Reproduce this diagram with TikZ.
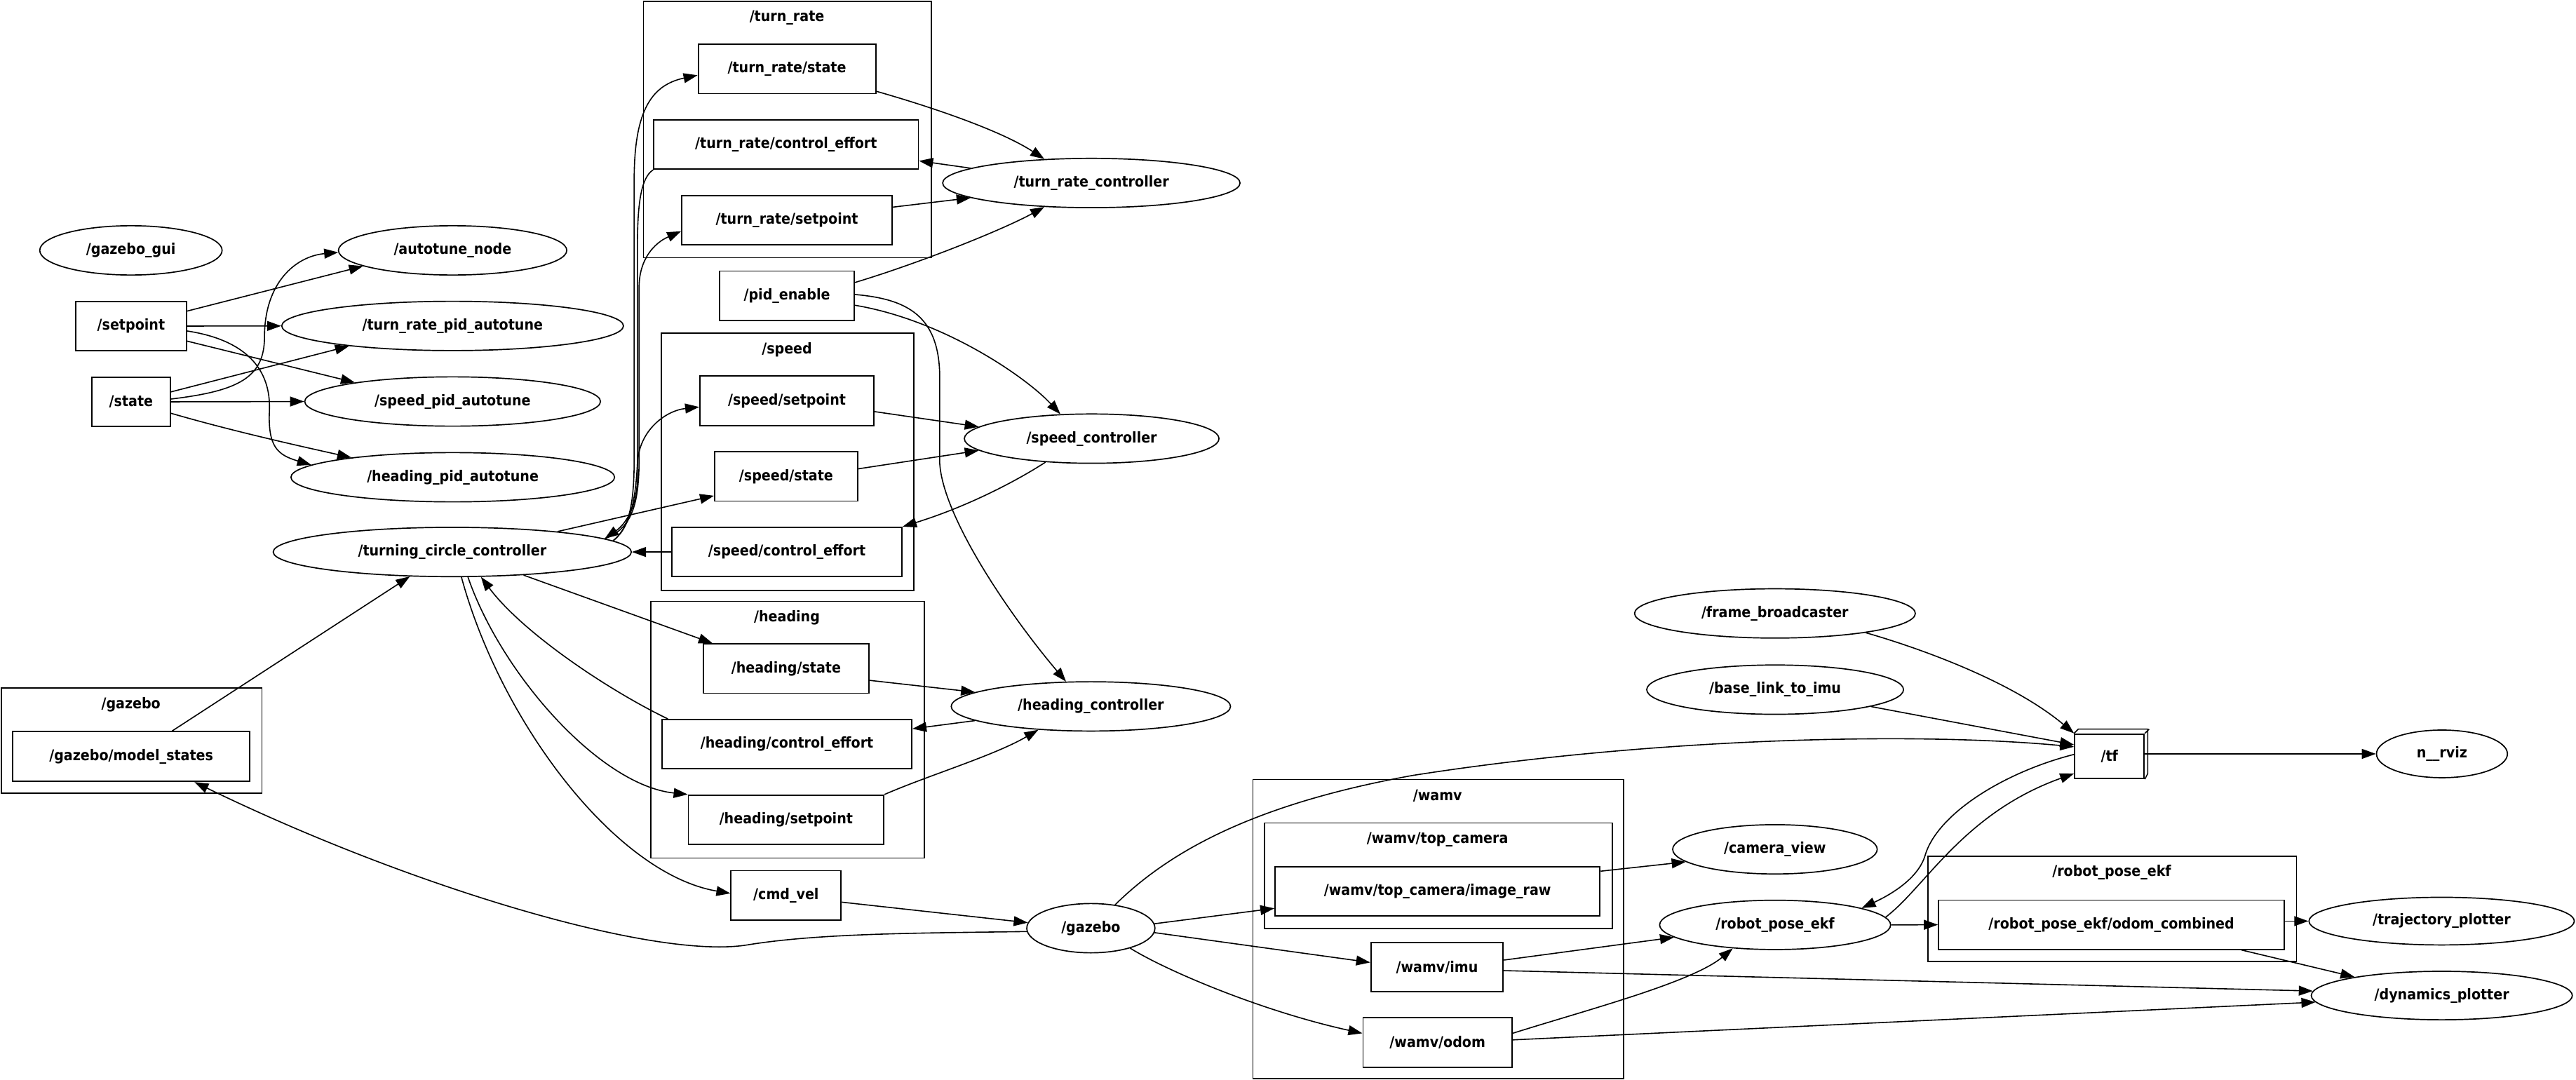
\documentclass[tikz,border=0pt]{standalone}
\usepackage{fontspec}
\setmainfont{DejaVu Sans}[FakeStretch=0.9]
\usetikzlibrary{shapes.geometric,arrows.meta}
\newlength\gu
\setlength\gu{2.3425pt}
\newcommand\lblfont{\fontsize{21.2pt}{25pt}\selectfont\bfseries}
\begin{document}
\begin{tikzpicture}[x=2.3425pt, y=-2.3425pt,
  topic/.style 2 args={draw, rectangle, line width=1.9pt, inner sep=0pt,
    minimum width=#1*\gu, minimum height=#2*\gu, font=\lblfont},
  el/.style 2 args={draw, ellipse, line width=1.7pt, inner sep=0pt,
    minimum width=#1*\gu, minimum height=#2*\gu, font=\lblfont},
  grp/.style 2 args={draw, rectangle, line width=1.7pt, inner sep=0pt, anchor=north west,
    minimum width=#1*\gu, minimum height=#2*\gu},
  grplabel/.style={font=\lblfont, inner sep=0pt},
  conn/.style={line width=1.6pt, -{Triangle[length=20pt,width=14pt]}},
]
\fill[white] (0,0) rectangle (1568,657.4);
\useasboundingbox (0,0) rectangle (1568,657.4);

% ---------- namespace groups ----------
\node[grp={175.2}{156}] (cturn) at (391.3,0.5) {};
\node[grplabel] (cturnlbl) at (479,10.7) {/turn\_rate};
\node[grp={153.6}{156.5}] (cspeed) at (402.2,202.5) {};
\node[grplabel] (cspeedlbl) at (479,213) {/speed};
\node[grp={166.6}{156.3}] (chead) at (395.7,365.7) {};
\node[grplabel] (cheadlbl) at (479,376) {/heading};
\node[grp={158.6}{64}] (cgaz) at (0.5,418.5) {};
\node[grplabel] (cgazlbl) at (79.7,429) {/gazebo};
\node[grp={225.5}{182}] (cwamv) at (762.3,474.1) {};
\node[grplabel] (cwamvlbl) at (875,484.5) {/wamv};
\node[grp={211.8}{64.1}] (ccam) at (769.2,500.6) {};
\node[grplabel] (ccamlbl) at (875,511) {/wamv/top\_camera};
\node[grp={224.2}{64}] (crpe) at (1173.3,521) {};
\node[grplabel] (crpelbl) at (1285.4,531) {/robot\_pose\_ekf};

% ---------- nodes (ellipses) ----------
\node[el={111}{30}] (gazebogui) at (79.7,152.4) {/gazebo\_gui};
\node[el={139}{30}] (autotune) at (275.5,152.4) {/autotune\_node};
\node[el={208}{30}] (trpa) at (275.5,198.4) {/turn\_rate\_pid\_autotune};
\node[el={180}{30}] (spa) at (275.5,244.4) {/speed\_pid\_autotune};
\node[el={197}{30}] (hpa) at (275.6,290.5) {/heading\_pid\_autotune};
\node[el={218}{30}] (tcc) at (275.3,336) {/turning\_circle\_controller};
\node[el={181}{30}] (trc) at (664.3,111.4) {/turn\_rate\_controller};
\node[el={155}{30}] (sc) at (664.5,267) {/speed\_controller};
\node[el={170}{30}] (hc) at (664,430) {/heading\_controller};
\node[el={78}{30}] (gazebo) at (664,565) {/gazebo};
\node[el={124.5}{30}] (cv) at (1080.4,517) {/camera\_view};
\node[el={140.6}{30}] (rpe) at (1080.5,563) {/robot\_pose\_ekf};
\node[el={170.9}{30}] (fb) at (1080.4,373.4) {/frame\_broadcaster};
\node[el={156.3}{30}] (bl) at (1080.5,419.8) {/base\_link\_to\_imu};
\node[el={79.7}{29}] (rviz) at (1486.4,458.9) {n\_\_rviz};
\node[el={161.5}{29}] (tp) at (1486.2,560.7) {/trajectory\_plotter};
\node[el={158.9}{29.5}] (dp) at (1486.3,606) {/dynamics\_plotter};

% ---------- topics (boxes) ----------
\node[topic={67.6}{30}] (setpoint) at (79.8,198.5) {/setpoint};
\node[topic={47.8}{30}] (state) at (79.8,244.6) {/state};
\node[topic={144.4}{30.3}] (gms) at (79.9,460.5) {/gazebo/model\_states};
\node[topic={108}{30}] (trs) at (479,42) {/turn\_rate/state};
\node[topic={161}{30}] (trce) at (478.5,88) {/turn\_rate/control\_effort};
\node[topic={128}{30}] (trsp) at (479,134) {/turn\_rate/setpoint};
\node[topic={82}{30}] (pe) at (479,180) {/pid\_enable};
\node[topic={106}{30}] (ssp) at (479,244) {/speed/setpoint};
\node[topic={87}{30}] (sstate) at (478.5,290) {/speed/state};
\node[topic={140}{30}] (sce) at (479,336) {/speed/control\_effort};
\node[topic={101}{30}] (hstate) at (478.5,407) {/heading/state};
\node[topic={152}{30}] (hce) at (479,453) {/heading/control\_effort};
\node[topic={119}{30}] (hsp) at (478.5,499) {/heading/setpoint};
\node[topic={67}{30}] (cmdvel) at (478.5,545) {/cmd\_vel};
\node[topic={197.8}{30}] (img) at (875,542.5) {/wamv/top\_camera/image\_raw};
\node[topic={80.5}{30}] (imu) at (874.7,588.7) {/wamv/imu};
\node[topic={90.7}{30}] (odom) at (875,634.6) {/wamv/odom};
\node[topic={210.4}{30}] (oc) at (1285.2,562.9) {/robot\_pose\_ekf/odom\_combined};
% /tf drawn as a small 3-D box
\node[topic={42.3}{27.1}] (tf) at (1284,460.35) {/tf};
\draw[line width=1.5pt, line join=round]
  (tf.north west) -- ++(2.56,-2.56) -- ++(42.3,0) -- ++(0,27.1) -- (tf.south east)
  (tf.north east) -- ++(2.56,-2.56);

% ---------- autotune connections ----------
\draw[conn] (setpoint.15) -- (autotune.190);
\draw[conn] (setpoint.east) -- (trpa.west);
\draw[conn] (setpoint.-15) -- (spa.169);
\draw[conn] (setpoint.-5) .. controls (150,207) and (165,225) .. (164,250)
  .. controls (163,272) and (169,277) .. (hpa.175);
\draw[conn] (state.4) .. controls (145,238) and (161,230) .. (161,205)
  .. controls (161,172) and (180,156) .. (autotune.181);
\draw[conn] (state.14) -- (trpa.191);
\draw[conn] (state.east) -- (spa.west);
\draw[conn] (state.-16) .. controls (140,262) and (180,271) .. (hpa.169);

% ---------- turning circle controller ----------
\draw[conn] (gms.32) -- (tcc.-150);
\draw[conn] (gazebo.183) .. controls (560,568) and (500,568) .. (456,575)
  .. controls (400,585) and (250,540) .. (gms.-22);
\draw[conn] (cmdvel.-7) -- (gazebo.175);
\draw[conn] (tcc.-70) .. controls (305,440) and (375,532) .. (cmdvel.178);
\draw[conn] (tcc.-58) .. controls (305,410) and (365,478) .. (hsp.north west);
\draw[conn] (hce.168) .. controls (370,420) and (318,385) .. (tcc.-41);
\draw[conn] (tcc.-18.5) -- (hstate.161);
\draw[conn] (tcc.11.4) -- (sstate.-165);
\draw[conn] (sce.west) -- (tcc.east);
\draw[conn] (tcc.4.5) .. controls (382,322) and (386,310) .. (386,280) -- (386,110)
  .. controls (386,70) and (395,52) .. (trs.184);
\draw[conn] (trce.south west) .. controls (390,108) and (388,125) .. (388,150) -- (388,290)
  .. controls (388,312) and (378,321) .. (tcc.5.6);
\draw[conn] (tcc.5) .. controls (384,322) and (389,308) .. (389,280) -- (389,175)
  .. controls (389,158) and (398,148) .. (trsp.186);
\draw[conn] (tcc.4) .. controls (385,320) and (387,300) .. (388,282)
  .. controls (389,262) and (405,250) .. (ssp.184);

% ---------- pid enable ----------
\draw[conn] (pe.11) .. controls (560,160) and (610,140) .. (trc.207);
\draw[conn] (pe.-8) .. controls (575,195) and (625,230) .. (sc.142);
\draw[conn] (pe.1) .. controls (552,182) and (572,192) .. (572,230) -- (572,282)
  .. controls (574,315) and (615,375) .. (hc.135.4);

% ---------- controllers ----------
\draw[conn] (trs.-14) .. controls (570,66) and (610,80) .. (trc.153);
\draw[conn] (trc.173) -- (trce.-7);
\draw[conn] (trsp.7) -- (trc.187);
\draw[conn] (ssp.-7.5) -- (sc.174);
\draw[conn] (sstate.6) -- (sc.186);
\draw[conn] (sc.207) .. controls (620,292) and (590,308) .. (sce.north east);
\draw[conn] (hstate.-8) -- (hc.173);
\draw[conn] (hc.187) -- (hce.7);
\draw[conn] (hsp.north east) .. controls (565,472) and (605,460) .. (hc.204.4);

% ---------- simulation and state estimation ----------
\draw[conn] (gazebo.4.5) -- (img.186.7);
\draw[conn] (gazebo.-4.5) -- (imu.176.6);
\draw[conn] (gazebo.-27) .. controls (712,592) and (770,616) .. (odom.173.5);
\draw[conn] (gazebo.44) .. controls (710,520) and (760,490) .. (860,472)
  .. controls (1000,450) and (1160,445) .. (tf.165);
\draw[conn] (img.7) -- (cv.188);
\draw[conn] (imu.6.5) -- (rpe.187);
\draw[conn] (imu.-3) -- (dp.178);
\draw[conn] (odom.7) .. controls (965,615) and (1030,598) .. (rpe.209.5);
\draw[conn] (odom.2) -- (dp.183);
\draw[conn] (rpe.east) -- (oc.west);
\draw[conn] (rpe.4) .. controls (1172,540) and (1195,495) .. (tf.206);
\draw[conn] (tf.177) .. controls (1220,470) and (1180,495) .. (1172,520)
  .. controls (1168,535) and (1150,545) .. (rpe.11.4);
\draw[conn] (fb.-12.4) .. controls (1170,395) and (1225,415) .. (tf.north west);
\draw[conn] (bl.-10) -- (tf.162);
\draw[conn] (tf.east |- rviz.west) -- (rviz.west);
\draw[conn] (tp.west -| oc.east) -- (tp.west);
\draw[conn] (oc.-11.7) -- (dp.168.6);
\end{tikzpicture}
\end{document}
